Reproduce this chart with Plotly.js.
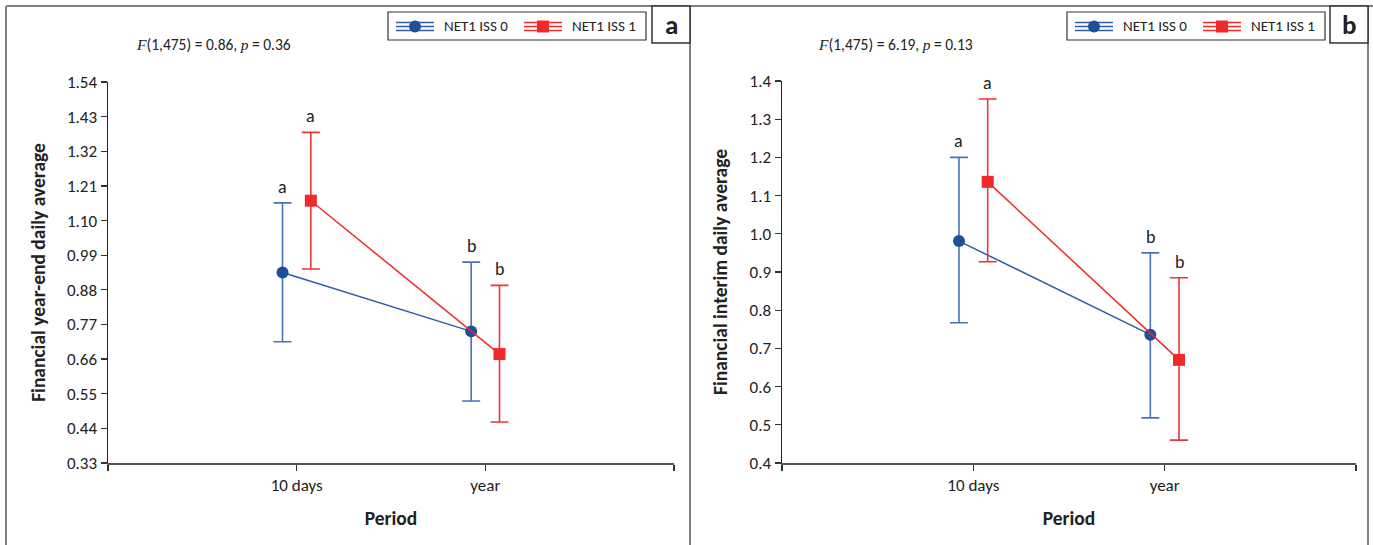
<!DOCTYPE html>
<html>
<head>
<meta charset="utf-8">
<script src="https://cdn.plot.ly/plotly-3.0.1.min.js"></script>
<style>html,body{margin:0;padding:0;background:#fff;}#chart{width:1373px;height:545px;}</style>
</head>
<body>
<div id="chart"></div>
<script>
// ---- data ----
const periods = ['10 days', 'year'];
const seriesNames = ['NET1 ISS 0', 'NET1 ISS 1'];

// panel a: Financial year-end daily average
const aBlueMean = [0.935, 0.748];
const aBlueHi   = [1.156, 0.968];
const aBlueLo   = [0.715, 0.527];
const aRedMean  = [1.163, 0.676];
const aRedHi    = [1.380, 0.894];
const aRedLo    = [0.946, 0.460];
const aBlueLetters = ['a', 'b'];
const aRedLetters  = ['a', 'b'];
const aTicks = [0.33, 0.44, 0.55, 0.66, 0.77, 0.88, 0.99, 1.10, 1.21, 1.32, 1.43, 1.54];

// panel b: Financial interim daily average
const bBlueMean = [0.981, 0.736];
const bBlueHi   = [1.200, 0.950];
const bBlueLo   = [0.767, 0.518];
const bRedMean  = [1.136, 0.670];
const bRedHi    = [1.353, 0.885];
const bRedLo    = [0.927, 0.460];
const bBlueLetters = ['a', 'b'];
const bRedLetters  = ['a', 'b'];
const bTicks = [0.4, 0.5, 0.6, 0.7, 0.8, 0.9, 1.0, 1.1, 1.2, 1.3, 1.4];

const statA = ['1,475', '0.86', '0.36'];
const statB = ['1,475', '6.19', '0.13'];

// ---- styles ----
const W = 1373, H = 545;
const FONT = "Carlito, Lato, 'Liberation Sans', sans-serif";
const BLUE_LINE = '#2f5ba8', BLUE_ERR = '#4a72b8', BLUE_MK = '#1d4f9c';
const RED_LINE = '#ee2b2b', RED_ERR = '#ee3535', RED_MK = '#ee2a2a';
const OFF = 0.075;
const px = x => x / W;
const py = y => 1 - y / H;

function xs(off) { return periods.map((p, i) => i + 1 + off); }

function trace(mean, hi, lo, off, name, lineC, errC, mkC, sym, xa, ya) {
  return {
    type: 'scatter', mode: 'lines+markers', name: name,
    x: xs(off), y: mean, xaxis: xa, yaxis: ya,
    line: {color: lineC, width: 1.5},
    marker: {color: mkC, size: 12, symbol: sym},
    error_y: {type: 'data', symmetric: false,
      array: hi.map((h, i) => h - mean[i]),
      arrayminus: lo.map((l, i) => mean[i] - l),
      color: errC, thickness: 1.6, width: 9},
    showlegend: false, hoverinfo: 'skip'
  };
}

const data = [
  trace(aBlueMean, aBlueHi, aBlueLo, -OFF, seriesNames[0], BLUE_LINE, BLUE_ERR, BLUE_MK, 'circle', 'x', 'y'),
  trace(aRedMean, aRedHi, aRedLo, OFF, seriesNames[1], RED_LINE, RED_ERR, RED_MK, 'square', 'x', 'y'),
  trace(bBlueMean, bBlueHi, bBlueLo, -OFF, seriesNames[0], BLUE_LINE, BLUE_ERR, BLUE_MK, 'circle', 'x2', 'y2'),
  trace(bRedMean, bRedHi, bRedLo, OFF, seriesNames[1], RED_LINE, RED_ERR, RED_MK, 'square', 'x2', 'y2')
];

function xAxis(domain, anchor) {
  return {
    domain: domain, anchor: anchor, range: [0, 3],
    tickmode: 'array', tickvals: [0, 1, 2, 3], ticktext: ['', periods[0], periods[1], ''],
    ticks: 'outside', ticklen: 6, tickwidth: 1.2, tickcolor: '#333',
    showline: true, linecolor: '#555', linewidth: 2,
    showgrid: false, zeroline: false,
    tickfont: {family: FONT, size: 17, color: '#222'},
    title: {text: 'Period', font: {family: FONT, size: 19.5, color: '#222', weight: 'bold'}, standoff: 16},
    fixedrange: true
  };
}
function yAxis(domain, anchor, range, ticks, fmt, title) {
  return {
    domain: domain, anchor: anchor, range: range,
    tickmode: 'array', tickvals: ticks, ticktext: ticks.map(v => v.toFixed(fmt)),
    ticks: 'outside', ticklen: 6, tickwidth: 1.2, tickcolor: '#333',
    showline: true, linecolor: '#222', linewidth: 1.5,
    showgrid: false, zeroline: false,
    tickfont: {family: FONT, size: 17, color: '#222'},
    title: {text: title, font: {family: FONT, size: 19.5, color: '#222', weight: 'bold'}, standoff: 16},
    fixedrange: true
  };
}

const shapes = [];
const annotations = [];

// outer frame
const GRAY = '#808080';
shapes.push({type: 'line', xref: 'paper', yref: 'paper', x0: px(6), x1: px(W), y0: py(6), y1: py(6), line: {color: GRAY, width: 2}});
[6, 690, 1368].forEach(x => shapes.push({type: 'line', xref: 'paper', yref: 'paper', x0: px(x), x1: px(x), y0: py(6), y1: py(H + 2), line: {color: GRAY, width: 2}}));

function panelDecor(cfg) {
  // panel letter box
  shapes.push({type: 'rect', xref: 'paper', yref: 'paper', x0: px(cfg.lbx0), x1: px(cfg.lbx0 + 38), y0: py(6), y1: py(43), line: {color: '#333', width: 1.5}, fillcolor: '#fff'});
  annotations.push({xref: 'paper', yref: 'paper', x: px(cfg.lbx0 + 19), y: py(24), text: '<b>' + cfg.letter + '</b>', showarrow: false, xanchor: 'center', yanchor: 'middle', font: {family: FONT, size: 27, color: '#222'}});
  // legend box
  shapes.push({type: 'rect', xref: 'paper', yref: 'paper', x0: px(cfg.lgx0), x1: px(cfg.lgx0 + 258), y0: py(12), y1: py(40), line: {color: '#333', width: 1.2}, fillcolor: '#fff'});
  const items = [
    {sx: cfg.lgx0 + 8, col: BLUE_LINE, mk: BLUE_MK, sym: 'circle', name: seriesNames[0]},
    {sx: cfg.lgx0 + 136, col: RED_LINE, mk: RED_MK, sym: 'square', name: seriesNames[1]}
  ];
  items.forEach(it => {
    [22.5, 26.5, 30.5].forEach(yy => shapes.push({type: 'line', xref: 'paper', yref: 'paper', x0: px(it.sx), x1: px(it.sx + 38), y0: py(yy), y1: py(yy), line: {color: it.col, width: 1.5}}));
    const cx = it.sx + 19, cy = 26.5, r = 6;
    shapes.push({type: it.sym === 'circle' ? 'circle' : 'rect', xref: 'paper', yref: 'paper', x0: px(cx - r), x1: px(cx + r), y0: py(cy + r), y1: py(cy - r), line: {color: it.mk, width: 0}, fillcolor: it.mk});
    annotations.push({xref: 'paper', yref: 'paper', x: px(it.sx + 46), y: py(26.5), text: it.name, showarrow: false, xanchor: 'left', yanchor: 'middle', font: {family: FONT, size: 15, color: '#222'}});
  });
  // statistics text
  const it = s => '<span style="font-family:\'Liberation Serif\',serif;font-style:italic">' + s + '</span>';
  annotations.push({xref: 'paper', yref: 'paper', x: px(cfg.fx), y: py(45), text: it('F') + '(' + cfg.stat[0] + ') = ' + cfg.stat[1] + ', ' + it('p') + ' = ' + cfg.stat[2], showarrow: false, xanchor: 'center', yanchor: 'middle', font: {family: FONT, size: 15.5, color: '#222'}});
}
panelDecor({letter: 'a', lbx0: 652, lgx0: 388, fx: 214, stat: statA});
panelDecor({letter: 'b', lbx0: 1330, lgx0: 1067, fx: 896, stat: statB});

// significance letters above error bars
function letters(hi, lets, off, xr, yr) {
  hi.forEach((h, i) => annotations.push({xref: xr, yref: yr, x: i + 1 + off, y: h, text: lets[i], showarrow: false, xanchor: 'center', yanchor: 'bottom', yshift: 3, font: {family: FONT, size: 18, color: '#222'}}));
}
letters(aBlueHi, aBlueLetters, -OFF, 'x', 'y');
letters(aRedHi, aRedLetters, OFF, 'x', 'y');
letters(bBlueHi, bBlueLetters, -OFF, 'x2', 'y2');
letters(bRedHi, bRedLetters, OFF, 'x2', 'y2');

const layout = {
  width: W, height: H,
  margin: {l: 0, r: 0, t: 0, b: 0},
  paper_bgcolor: '#fff', plot_bgcolor: '#fff',
  showlegend: false,
  xaxis: xAxis([px(108), px(674)], 'y'),
  yaxis: yAxis([py(463), py(82)], 'x', [0.33, 1.54], aTicks, 2, 'Financial year-end daily average'),
  xaxis2: xAxis([px(782), px(1356)], 'y2'),
  yaxis2: yAxis([py(463), py(81)], 'x2', [0.4, 1.4], bTicks, 1, 'Financial interim daily average'),
  shapes: shapes,
  annotations: annotations
};

Plotly.newPlot('chart', data, layout, {displayModeBar: false, staticPlot: true});
</script>
</body>
</html>
